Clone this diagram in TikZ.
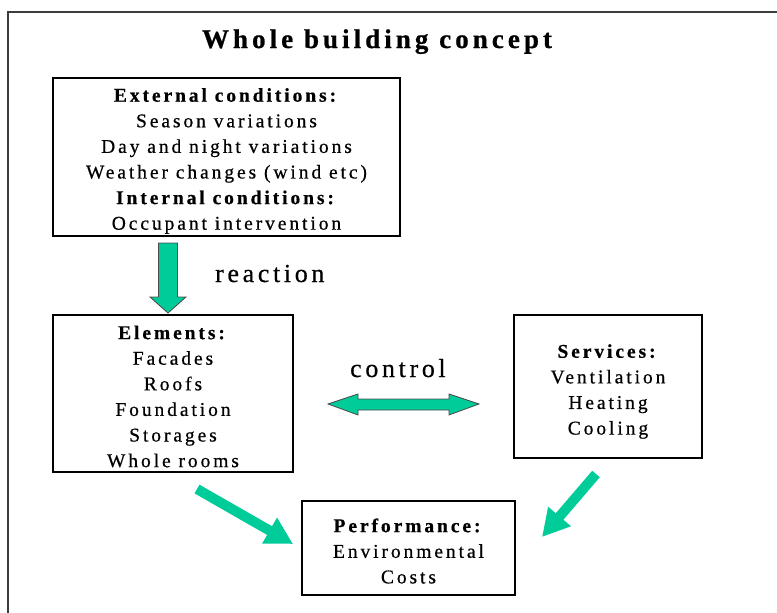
\documentclass[tikz,border=0pt]{standalone}
\usepackage{fontspec}
\setmainfont{Liberation Serif}[LetterSpace=15, FakeBold=0.6]
\newfontfamily\titlefont{Liberation Serif}[LetterSpace=15, FakeBold=0.8]
\newfontfamily\lblfont{Liberation Serif}[LetterSpace=14, FakeBold=0.5]
\usetikzlibrary{arrows.meta}
\definecolor{arrowgreen}{RGB}{0,204,153}
\definecolor{framegray}{RGB}{60,60,60}
\begin{document}
\begin{tikzpicture}[x=1pt,y=-1pt,
  box/.style={draw=black, line width=1.2pt, inner sep=0pt},
  boxtext/.style={align=center, inner sep=0pt, font=\fontsize{19.5}{25.6}\selectfont},
  blockarrow/.style={fill=arrowgreen, draw=black!70, line width=0.8pt, line join=miter},
  diagarrow/.style={draw=arrowgreen, line width=10pt, -{Triangle[width=28pt,length=27pt]}},
  lbl/.style={font=\lblfont\fontsize{26}{30}\selectfont, anchor=base west, inner sep=0pt}]
\useasboundingbox (0,0) rectangle (777,613);
\draw[framegray, line width=1.5pt] (8,613) -- (8,12) -- (777,12);
\node[anchor=base, font=\titlefont\bfseries\fontsize{27}{30}\selectfont, inner sep=0pt] (title) at (377,48) {Whole building concept};
\node[box, minimum width=347pt, minimum height=158pt] (ext) at (226.5,157) {};
\node[boxtext] (extText) at ([yshift=-4pt]ext.center)
  {\textbf{External conditions:}\\Season variations\\Day and night variations\\Weather changes (wind etc)\\\textbf{Internal conditions:}\\Occupant intervention};
\node[box, minimum width=240pt, minimum height=157pt] (elem) at (173,393.5) {};
\node[boxtext] (elemText) at ([yshift=-3pt]elem.center)
  {\textbf{Elements:}\\Facades\\Roofs\\Foundation\\Storages\\Whole rooms};
\node[box, minimum width=188pt, minimum height=143pt] (serv) at (608,386.5) {};
\node[boxtext] (servText) at ([yshift=-5pt]serv.center)
  {\textbf{Services:}\\Ventilation\\Heating\\Cooling};
\node[box, minimum width=213pt, minimum height=94pt] (perf) at (408.5,548) {};
\node[boxtext] (perfText) at ([yshift=-3pt]perf.center)
  {\textbf{Performance:}\\Environmental\\Costs};
% down arrow (reaction)
\draw[blockarrow] (158.5,243) -- (177.5,243) -- (177.5,297) -- (186,297) -- (168,313) -- (150,297) -- (158.5,297) -- cycle;
\node[lbl] (reaction) at (215,282) {reaction};
% double arrow (control)
\draw[blockarrow] (328,404) -- (358,394) -- (358,399) -- (449,399) -- (449,394) -- (479,404) -- (449,415) -- (449,410) -- (358,410) -- (358,415) -- cycle;
\node[lbl] (control) at (350,377) {control};
% diagonal arrows to performance
\coordinate (a1s) at (197,489);
\coordinate (a1e) at (293,544);
\coordinate (a2s) at (596,474);
\coordinate (a2e) at (542,537);
\draw[diagarrow] (a1s) -- (a1e);
\draw[diagarrow] (a2s) -- (a2e);
\end{tikzpicture}
\end{document}
